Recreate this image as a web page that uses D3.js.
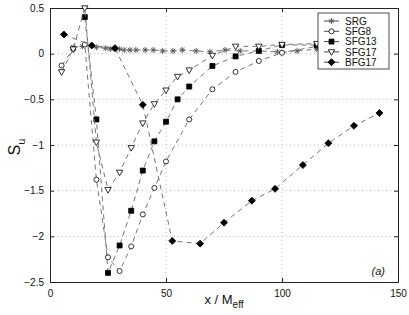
<!DOCTYPE html>
<html>
<head>
<meta charset="utf-8">
<script src="https://cdn.jsdelivr.net/npm/d3@7"></script>
<style>
  body { margin: 0; background: #fff; }
  text { font-family: "Liberation Sans", Arial, sans-serif; }
</style>
</head>
<body>
<div id="chart"></div>
<script>
// data
const srgX = [10, 14, 20, 24, 26, 28, 30, 32, 34.5, 37, 41, 44.5, 48.5, 53, 57, 63, 69, 75.4, 82, 90, 98, 106.5, 115];
const srgY = [0.07, 0.08, 0.07, 0.06, 0.05, 0.06, 0.05, 0.04, 0.04, 0.04, 0.04, 0.04, 0.03, 0.03, 0.04, 0.03, 0.02, 0.04, 0.03, 0.03, 0.02, 0.03, 0.05];

const sfg8X = [5, 10, 15, 20, 25, 30, 35, 40, 45, 50, 60, 70, 80, 90, 100, 115];
const sfg8Y = [-0.13, 0.05, 0.1, -1.38, -2.23, -2.38, -2.11, -1.76, -1.47, -1.18, -0.72, -0.39, -0.2, -0.08, 0.01, 0.08];

const sfg13X = [15, 20, 25, 30, 35, 40, 45, 50, 55, 60, 70, 80, 90, 100, 115];
const sfg13Y = [0.4, -0.72, -2.4, -2.1, -1.72, -1.28, -0.96, -0.745, -0.5, -0.36, -0.135, -0.03, 0.03, 0.095, 0.095];

const sfg17X = [5, 10, 15, 20, 25, 30, 35, 40, 45, 50, 55, 60, 70, 80, 90, 100, 115];
const sfg17Y = [-0.2, 0.05, 0.5, -0.97, -1.49, -1.3, -1.03, -0.76, -0.55, -0.4, -0.25, -0.18, -0.02, 0.08, 0.08, 0.1, 0.11];

const bfg17X = [6, 18, 28, 40, 52.7, 64.7, 75, 87, 97, 109, 120, 131, 142];
const bfg17Y = [0.21, 0.09, 0.06, -0.56, -2.05, -2.08, -1.85, -1.61, -1.48, -1.22, -0.98, -0.79, -0.65];

const seriesNames = ["SRG", "SFG8", "SFG13", "SFG17", "BFG17"];
const xTicks = [0, 50, 100, 150];
const yTicks = [0.5, 0, -0.5, -1, -1.5, -2, -2.5];

const series = [
  { name: "SRG", marker: "star", x: srgX, y: srgY },
  { name: "SFG8", marker: "circle", x: sfg8X, y: sfg8Y },
  { name: "SFG13", marker: "square", x: sfg13X, y: sfg13Y },
  { name: "SFG17", marker: "tri", x: sfg17X, y: sfg17Y },
  { name: "BFG17", marker: "diamond", x: bfg17X, y: bfg17Y }
];

const W = 409, H = 315;
const m = { left: 50, right: 11, top: 8, bottom: 33 };
const w = W - m.left - m.right, h = H - m.top - m.bottom;

const svg = d3.select("#chart").append("svg")
  .attr("width", W).attr("height", H);
const g = svg.append("g").attr("transform", `translate(${m.left},${m.top})`);

const x = d3.scaleLinear().domain([0, 150]).range([0, w]);
const y = d3.scaleLinear().domain([-2.5, 0.5]).range([h, 0]);

// grid
g.selectAll(".gx").data(xTicks.slice(1, -1)).enter().append("line")
  .attr("x1", d => x(d)).attr("x2", d => x(d)).attr("y1", 0).attr("y2", h)
  .style("stroke", "#aaa").style("stroke-width", 0.8).style("stroke-dasharray", "1,3");
g.selectAll(".gy").data(yTicks.slice(1, -1)).enter().append("line")
  .attr("y1", d => y(d)).attr("y2", d => y(d)).attr("x1", 0).attr("x2", w)
  .style("stroke", "#aaa").style("stroke-width", 0.8).style("stroke-dasharray", "1,3");

// axes
const fmt = d => d3.format("")(d).replace("-", "\u2212");
const axB = g.append("g").attr("transform", `translate(0,${h})`)
  .call(d3.axisBottom(x).tickValues(xTicks).tickSize(-4).tickPadding(6).tickFormat(fmt));
const axT = g.append("g")
  .call(d3.axisTop(x).tickValues(xTicks).tickSize(-4).tickFormat(""));
const axL = g.append("g")
  .call(d3.axisLeft(y).tickValues(yTicks).tickSize(-4).tickPadding(6).tickFormat(fmt));
const axR = g.append("g").attr("transform", `translate(${w},0)`)
  .call(d3.axisRight(y).tickValues(yTicks).tickSize(-4).tickFormat(""));
[axB, axT, axL, axR].forEach(a => {
  a.select(".domain").style("stroke", "#222");
  a.selectAll(".tick line").style("stroke", "#222");
  a.selectAll("text").style("font-size", "10px").style("fill", "#111")
    .style("font-family", "'Liberation Sans', Arial, sans-serif");
});
axB.selectAll(".tick text").attr("dy", "0.9em");

// markers
function markerPath(type) {
  switch (type) {
    case "star": return "M-3,0H3M0,-3V3M-2.2,-2.2L2.2,2.2M-2.2,2.2L2.2,-2.2";
    case "circle": return d3.symbol(d3.symbolCircle, 20)();
    case "square": return "M-2.5,-2.5H2.5V2.5H-2.5Z";
    case "tri": return "M-3.2,-2.2H3.2L0,3.4Z";
    case "diamond": return "M0,-3.5L3.5,0L0,3.5L-3.5,0Z";
  }
}
function drawMarker(sel, type) {
  sel.attr("d", markerPath(type))
    .style("fill", (type === "square" || type === "diamond") ? "#000" : (type === "star" ? "none" : "#fff"))
    .style("stroke", type === "star" ? "#555" : "#000")
    .style("stroke-width", type === "star" ? 0.9 : 0.8);
}

const line = d3.line().x(d => x(d[0])).y(d => y(d[1]));

series.forEach(s => {
  const pts = s.x.map((v, i) => [v, s.y[i]]);
  const sg = g.append("g");
  sg.append("path").attr("d", line(pts))
    .style("fill", "none").style("stroke", "#666").style("stroke-width", 0.9)
    .style("stroke-dasharray", "5,4");
  sg.selectAll("path.mk").data(pts).enter().append("path").attr("class", "mk")
    .attr("transform", d => `translate(${x(d[0])},${y(d[1])})`)
    .call(drawMarker, s.marker);
});

// legend
const lg = svg.append("g").attr("transform", "translate(318,13)");
lg.append("rect").attr("width", 71).attr("height", 56)
  .style("fill", "#fff").style("stroke", "#222").style("stroke-width", 0.8);
series.forEach((s, i) => {
  const yy = 8 + i * 10.3;
  lg.append("line").attr("x1", 6).attr("x2", 21).attr("y1", yy).attr("y2", yy)
    .style("stroke", "#333").style("stroke-width", 0.9);
  lg.append("path").attr("transform", `translate(13.5,${yy})`).call(drawMarker, s.marker);
  lg.append("text").attr("x", 27).attr("y", yy + 3.6).text(seriesNames[i])
    .style("font-size", "10px").style("fill", "#111");
});

// labels
svg.append("text").attr("x", m.left + w / 2).attr("y", 304).attr("text-anchor", "middle")
  .style("font-size", "13px").style("fill", "#111")
  .html('x / M<tspan dy="4" font-size="10px">eff</tspan>');
svg.append("text").attr("transform", "translate(20,147) rotate(-90)").attr("text-anchor", "middle")
  .style("font-size", "16px").style("fill", "#111")
  .html('S<tspan dy="5" font-size="11px">u</tspan>');
svg.append("text").attr("x", 385).attr("y", 275).attr("text-anchor", "end")
  .style("font-size", "11px").style("font-style", "italic").style("fill", "#111").text("(a)");
</script>
</body>
</html>
